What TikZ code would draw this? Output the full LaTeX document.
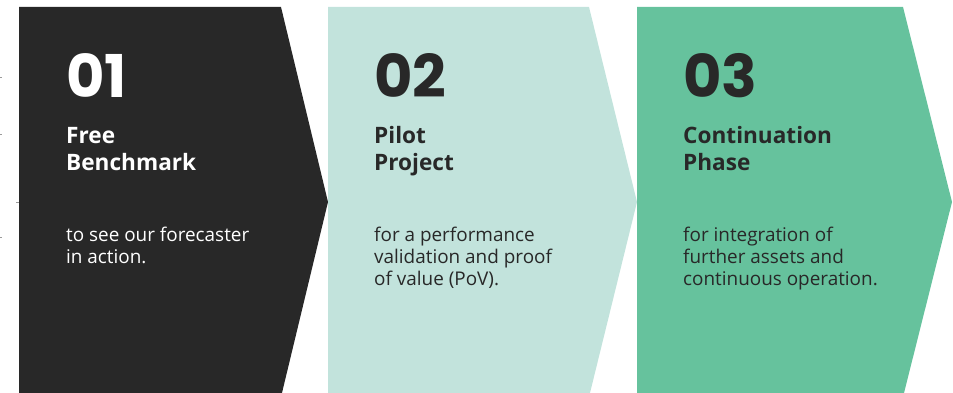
\documentclass[tikz,border=0pt]{standalone}
\usepackage{fontspec}
\setmainfont{Open Sans}
\newfontfamily\numfont{Poppins}
\usetikzlibrary{positioning}
\definecolor{phase-dark}{HTML}{282828}
\definecolor{phase-mint}{HTML}{C2E3DC}
\definecolor{phase-green}{HTML}{66C29D}
\definecolor{tick-gray}{HTML}{9A9A9A}

\tikzset{
  phase number/.style={anchor=base west, inner sep=0pt, font=\numfont\bfseries\fontsize{59}{59}\selectfont},
  phase title/.style={anchor=base west, inner sep=0pt, align=left, font=\bfseries\fontsize{22.6}{27}\selectfont},
  phase text/.style={anchor=base west, inner sep=0pt, align=left, font=\fontsize{18.9}{22}\selectfont},
}

\begin{document}
\begin{tikzpicture}[x=1pt, y=-1pt]
\useasboundingbox (0,0) rectangle (953,393);
\clip (0,0) rectangle (953,393);
% chevrons
\fill[phase-dark]  (19,7)  -- (281,7) -- (328,202) -- (281,397) -- (19,397)  -- cycle;
\fill[phase-mint]  (328,7) -- (589,7) -- (637,202) -- (589,397) -- (328,397) -- cycle;
\fill[phase-green] (637,7) -- (903,7) -- (952,202) -- (903,397) -- (637,397) -- cycle;
% small marks on the left
\draw[tick-gray, line width=1pt] (0,78) -- (1.5,78);
\draw[tick-gray, line width=1pt] (0,135) -- (1.5,135);
\draw[tick-gray, line width=1pt] (0,237) -- (1.5,237);
\draw[tick-gray, line width=1pt] (16,202) -- (19,202);
% phase 1 (base anchor = last line)
\node[phase number, text=white] (num1) at (66,98) {01};
\node[phase title, text=white] (title1) at (66,170) {Free\\Benchmark};
\node[phase text, text=white] (text1) at (66,263) {to see our forecaster\\in action.};
% phase 2
\node[phase number, text=phase-dark] (num2) at (374,98) {02};
\node[phase title, text=phase-dark] (title2) at (374,170) {Pilot\\Project};
\node[phase text, text=phase-dark] (text2) at (374,285) {for a performance\\validation and proof\\of value (PoV).};
% phase 3
\node[phase number, text=phase-dark] (num3) at (683,98) {03};
\node[phase title, text=phase-dark] (title3) at (683,170) {Continuation\\Phase};
\node[phase text, text=phase-dark] (text3) at (683,285) {for integration of\\further assets and\\continuous operation.};
\end{tikzpicture}
\end{document}
